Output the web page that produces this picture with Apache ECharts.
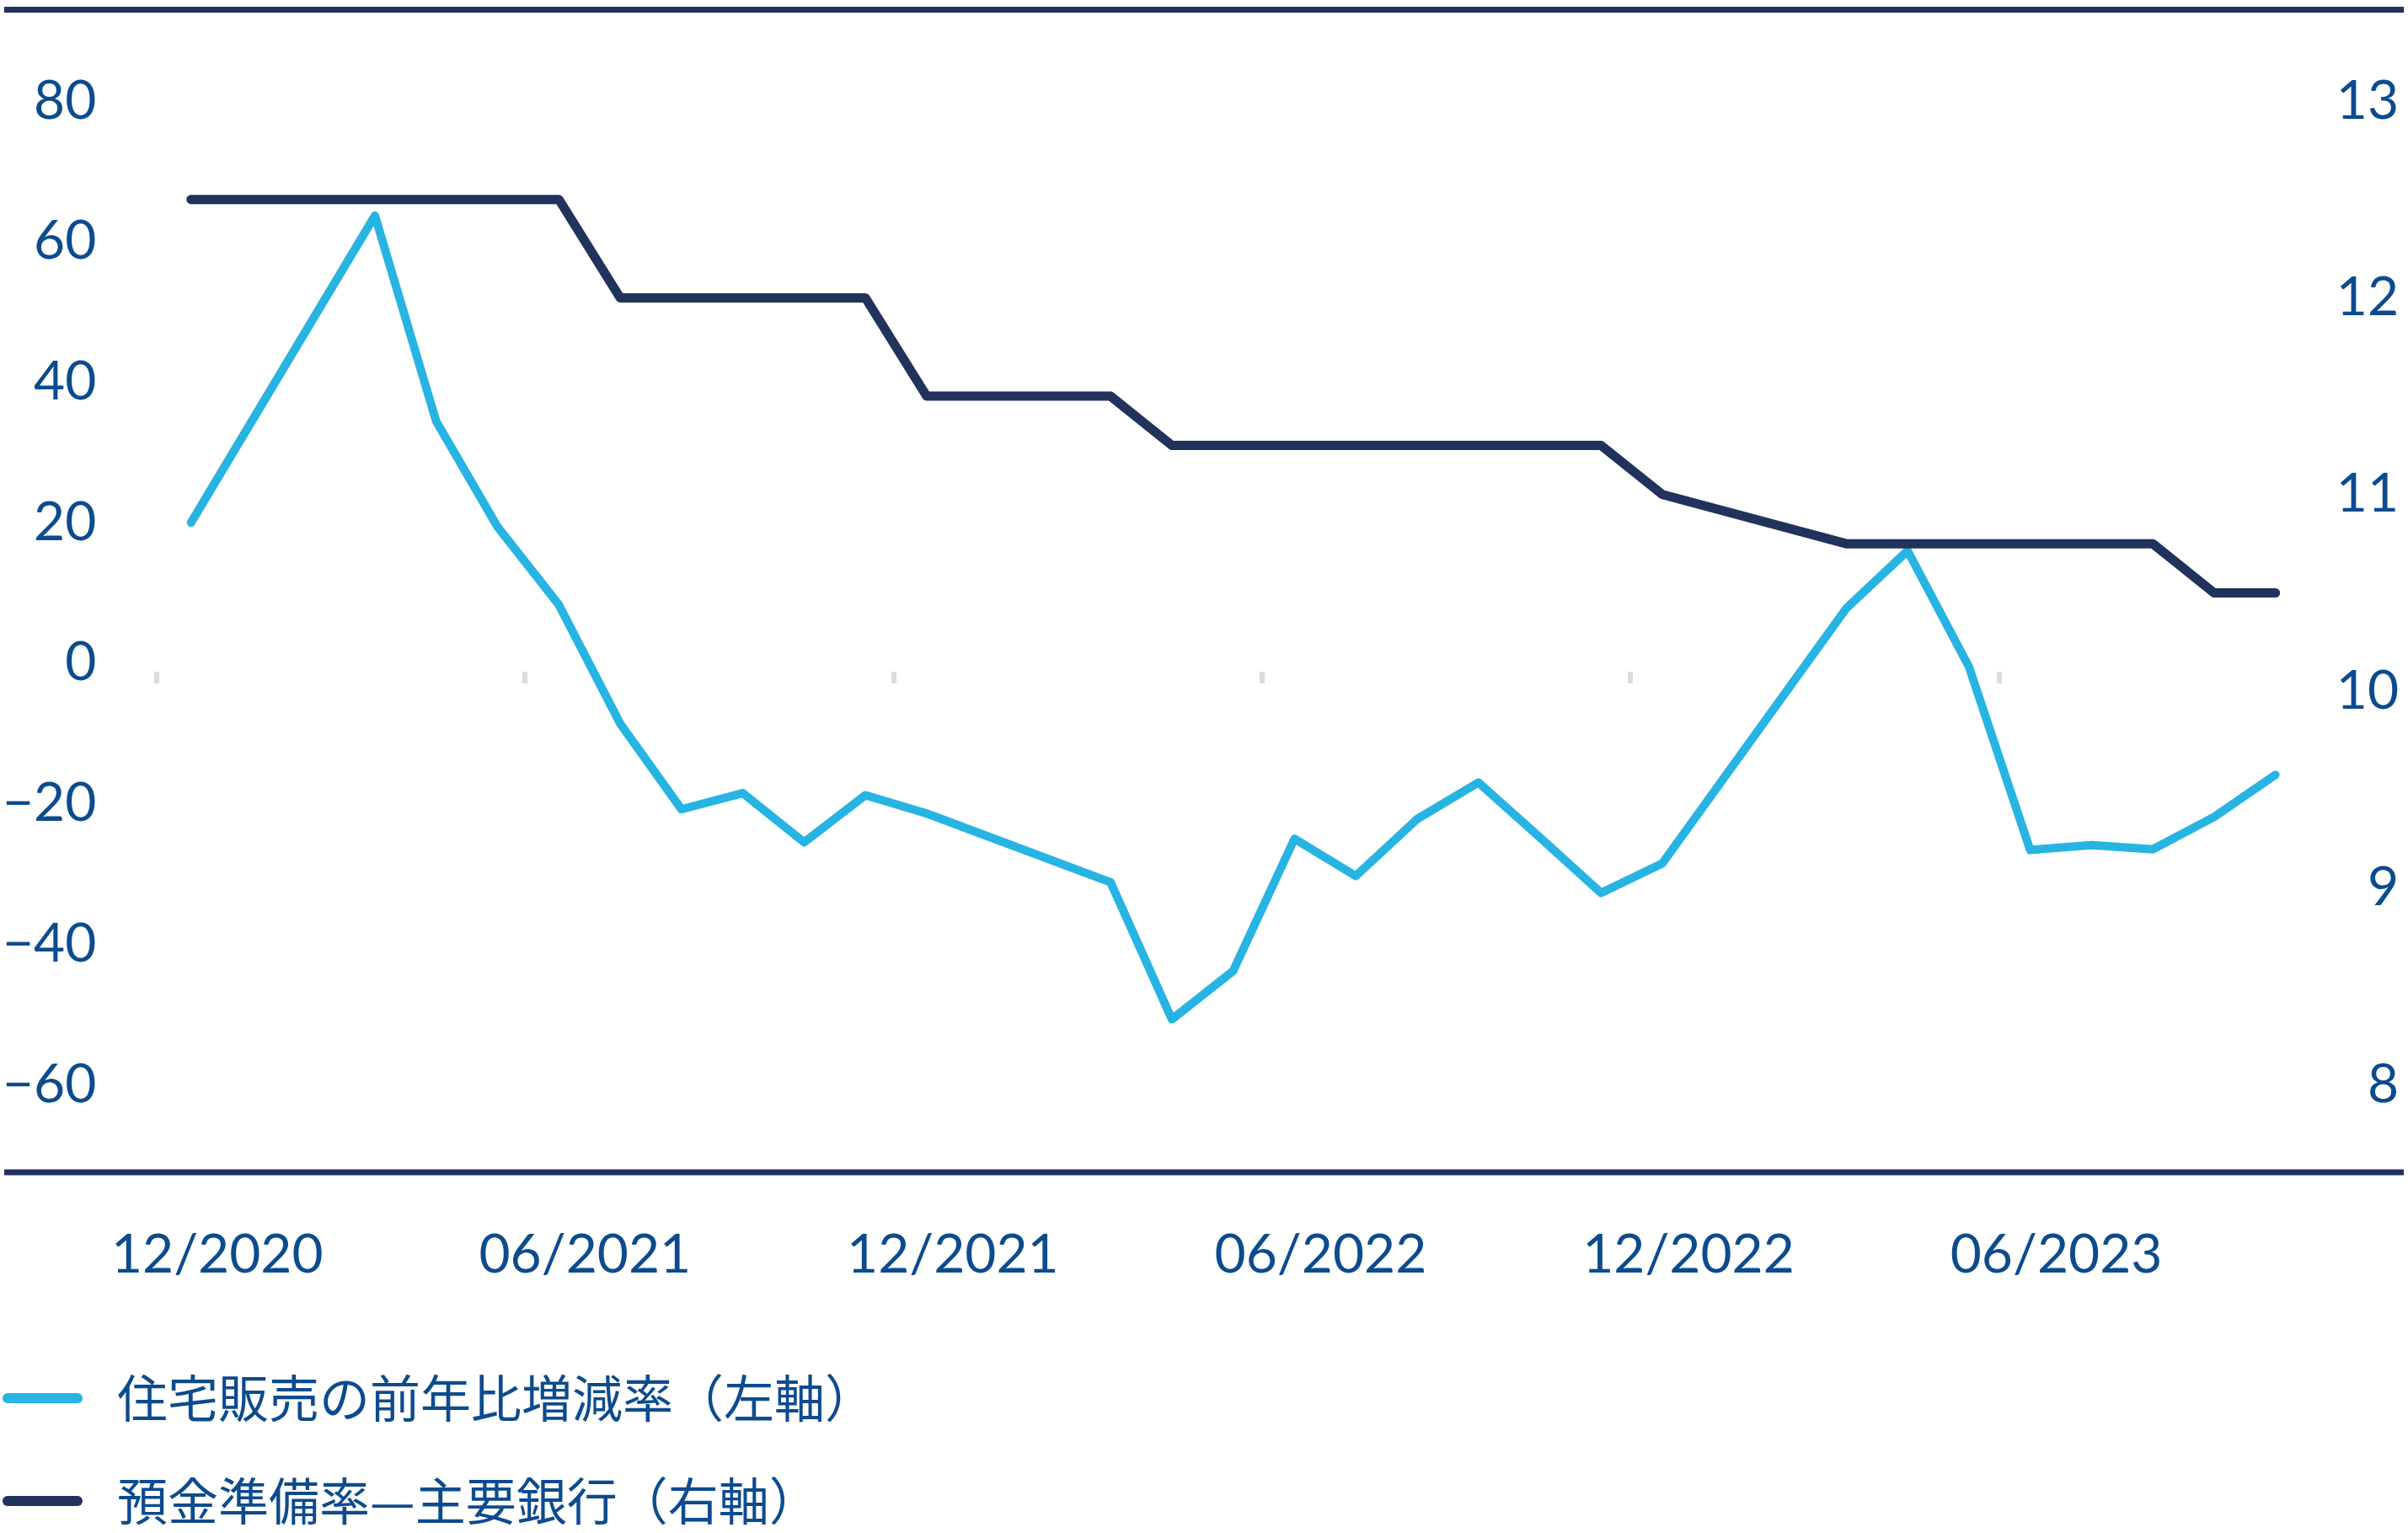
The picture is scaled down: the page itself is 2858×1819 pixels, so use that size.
<!DOCTYPE html>
<html>
<head>
<meta charset="utf-8">
<script src="https://cdn.jsdelivr.net/npm/echarts@6/dist/echarts.min.js"></script>
<style>
  html, body { margin: 0; padding: 0; background: #ffffff; }
  #chart { width: 2858px; height: 1819px; }
</style>
</head>
<body>
<div id="chart"></div>
<script>
// ---- Data ----
const months = [
  '12/2020',
  '01/2021','02/2021','03/2021','04/2021','05/2021','06/2021','07/2021','08/2021','09/2021','10/2021','11/2021','12/2021',
  '01/2022','02/2022','03/2022','04/2022','05/2022','06/2022','07/2022','08/2022','09/2022','10/2022','11/2022','12/2022',
  '01/2023','02/2023','03/2023','04/2023','05/2023','06/2023','07/2023','08/2023','09/2023','10/2023'
];
// 住宅販売の前年比増減率 (left axis, %)
const housingSalesYoY = [
  20, null, null, 63.7, 34.4, 19.4, 8.3, -8.6, -20.8, -18.5, -25.5, -18.8, -21.4,
  null, null, -31.2, -50.7, -43.8, -25, -30.3, -22.2, -17, -24.8, -32.7, -28.5,
  null, null, 7.8, 16, -0.5, -26.6, -25.9, -26.5, -21.9, -15.9
];
// 預金準備率—主要銀行 (right axis, %)
const reserveRatio = [
  12.5, null, null, 12.5, 12.5, 12.5, 12.5, 12.0, 12.0, 12.0, 12.0, 12.0, 11.5,
  null, null, 11.5, 11.25, 11.25, 11.25, 11.25, 11.25, 11.25, 11.25, 11.25, 11.0,
  null, null, 10.75, 10.75, 10.75, 10.75, 10.75, 10.75, 10.5, 10.5
];
const seriesNames = ['住宅販売の前年比増減率（左軸）', '預金準備率—主要銀行（右軸）'];
const leftAxis = { min: -60, max: 80, interval: 20 };
const rightAxis = { min: 8, max: 13, interval: 1 };
// band boundaries (one more slot than months) used for the small boundary ticks
const tickSlots = months.concat(['11/2023']);

// ---- Styles ----
const LABEL_COLOR = '#0c4b8e';
const CYAN = '#27b4e2';
const NAVY = '#21335c';
const FONT = 'Lato, "Noto Sans", sans-serif';
const CJK_FONT = '"Noto Sans CJK JP", "Noto Sans", sans-serif';

const chart = echarts.init(document.getElementById('chart'), null, { renderer: 'canvas' });

const minusFmt = v => String(v).replace('-', '\u2212');

const option = {
  backgroundColor: '#ffffff',
  animation: false,
  grid: [
    { left: 185.5, right: 121, top: 120, bottom: 532, containLabel: false },
    { left: 185.5, right: 121, top: 700, bottom: 1022, containLabel: false }
  ],
  xAxis: [
    {
      type: 'category',
      gridIndex: 0,
      data: months,
      boundaryGap: true,
      position: 'bottom',
      axisLine: { show: false, onZero: false },
      axisTick: { show: false },
      splitLine: { show: false },
      axisLabel: {
        interval: 5,
        margin: 170,
        color: LABEL_COLOR,
        fontFamily: FONT,
        fontSize: 64,
        lineHeight: 64,
        padding: [0, 0, 0, 62]
      }
    },
    {
      type: 'category',
      gridIndex: 1,
      data: tickSlots,
      boundaryGap: false,
      position: 'bottom',
      axisLine: { show: false, onZero: false },
      axisTick: { show: true, interval: 5, length: 14, lineStyle: { color: '#dcdcdc', width: 6 } },
      axisLabel: { show: false, showMaxLabel: false, showMinLabel: false },
      splitLine: { show: false }
    }
  ],
  yAxis: [
    {
      type: 'value',
      gridIndex: 0,
      position: 'left',
      min: leftAxis.min, max: leftAxis.max, interval: leftAxis.interval,
      axisLine: { show: false },
      axisTick: { show: false },
      splitLine: { show: false },
      axisLabel: {
        margin: 76,
        color: LABEL_COLOR,
        fontFamily: FONT,
        fontSize: 64,
        formatter: minusFmt
      }
    },
    {
      type: 'value',
      gridIndex: 0,
      position: 'right',
      min: rightAxis.min, max: rightAxis.max, interval: rightAxis.interval,
      axisLine: { show: false },
      axisTick: { show: false },
      splitLine: { show: false },
      axisLabel: {
        margin: 110,
        align: 'right',
        color: LABEL_COLOR,
        fontFamily: FONT,
        fontSize: 64
      }
    },
    {
      type: 'value',
      gridIndex: 1,
      show: false,
      min: 0, max: 1
    }
  ],
  legend: {
    orient: 'vertical',
    left: 3,
    top: 1629,
    padding: 0,
    itemGap: 62,
    itemWidth: 95,
    itemHeight: 12,
    icon: 'path://M6,0L89,0A6,6,0,0,1,89,12L6,12A6,6,0,0,1,6,0Z',
    itemStyle: { borderWidth: 0 },
    textStyle: {
      color: LABEL_COLOR,
      fontFamily: CJK_FONT,
      fontSize: 60,
      lineHeight: 60,
      padding: [0, 0, 0, 36]
    },
    data: seriesNames
  },
  graphic: [
    { type: 'line', shape: { x1: 5, y1: 11.5, x2: 2853, y2: 11.5 }, style: { stroke: NAVY, lineWidth: 7 }, silent: true },
    { type: 'line', shape: { x1: 5, y1: 1391, x2: 2853, y2: 1391 }, style: { stroke: NAVY, lineWidth: 7 }, silent: true }
  ],
  series: [
    {
      name: seriesNames[0],
      type: 'line',
      xAxisIndex: 0,
      yAxisIndex: 0,
      data: housingSalesYoY,
      connectNulls: true,
      symbol: 'none',
      color: CYAN,
      lineStyle: { color: CYAN, width: 10, cap: 'round', join: 'round' },
      z: 2
    },
    {
      name: seriesNames[1],
      type: 'line',
      xAxisIndex: 0,
      yAxisIndex: 1,
      data: reserveRatio,
      connectNulls: true,
      symbol: 'none',
      color: NAVY,
      lineStyle: { color: NAVY, width: 11, cap: 'round', join: 'round' },
      z: 3
    }
  ]
};

chart.setOption(option);
</script>
</body>
</html>
